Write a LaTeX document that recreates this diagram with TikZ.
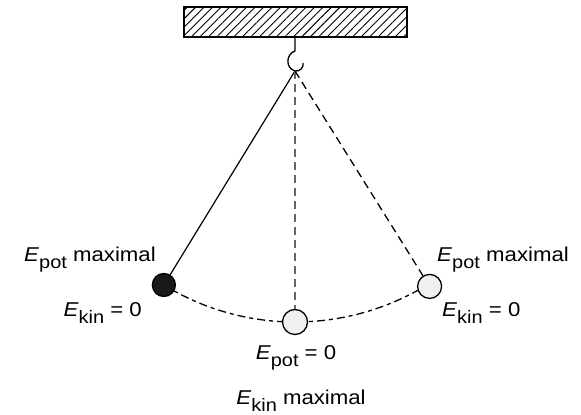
\documentclass[tikz,border=0pt]{standalone}
\usepackage{fontspec}
\setmainfont{Liberation Sans}
\usetikzlibrary{calc, patterns.meta, positioning}

\newcommand{\Esub}[1]{\textit{E}\raisebox{-0.32em}{\fontsize{18}{18}\selectfont #1}}

\begin{document}
\begin{tikzpicture}[x=1pt, y=1pt,
        bob/.style={circle, draw, line width=1.3pt, minimum size=24pt, inner sep=0pt},
        string/.style={line width=1.2pt},
        dashstring/.style={line width=1.3pt, dash pattern=on 8pt off 5pt},
        swing/.style={line width=1.3pt, dash pattern=on 8pt off 4pt on 4pt off 4pt},
        txt/.style={font=\fontsize{20}{24}\selectfont, inner sep=0pt, xscale=1.11, transform shape}
    ]
        \useasboundingbox (0,0) rectangle (581,415);

        % Ceiling
        \draw[line width=1.5pt, pattern={Lines[angle=45, distance=6pt, line width=0.9pt]}]
            (184,378) rectangle (407,408);

        % Hook
        \coordinate (top) at (295,378);
        \coordinate (pivot) at (295,344);
        \draw[line width=1.3pt] (top) -- ++(0,-14)
            .. controls (286,361) and (285,347) .. (pivot)
            .. controls (300,343) and (304,348) .. (303,352);

        % Bob positions
        \coordinate (lpos) at ($(pivot)+(238.5:251)$);
        \coordinate (mpos) at ($(pivot)+(270:251)$);
        \coordinate (rpos) at ($(pivot)+(302:254)$);

        % Swing arc
        \draw[swing] (lpos) arc[start angle=238.5, end angle=270, radius=251]
            arc[start angle=270, end angle=302, radius=254];

        % Bobs
        \node[bob, fill=black!90, minimum size=23pt] (lbob) at (lpos) {};
        \node[bob, fill=black!6, minimum size=25pt] (mbob) at (mpos) {};
        \node[bob, fill=black!6] (rbob) at (rpos) {};

        % Strings
        \draw[string] (pivot) -- (lbob);
        \draw[dashstring, black!60] (pivot) -- (mbob);
        \draw[dashstring] (pivot) -- (rbob);

        % Labels
        \node[txt, anchor=base east] (lpot) at (156,153) {\Esub{pot} maximal};
        \node[txt, anchor=base east] (lkin) at (142,98) {\Esub{kin} = 0};
        \node[txt, anchor=base west] (rpot) at (437,153) {\Esub{pot} maximal};
        \node[txt, anchor=base west] (rkin) at (442,98) {\Esub{kin} = 0};
        \node[txt, anchor=base] (mpot) at (296,55) {\Esub{pot} = 0};
        \node[txt, anchor=base] (mkin) at (301,10) {\Esub{kin} maximal};
    \end{tikzpicture}
\end{document}
